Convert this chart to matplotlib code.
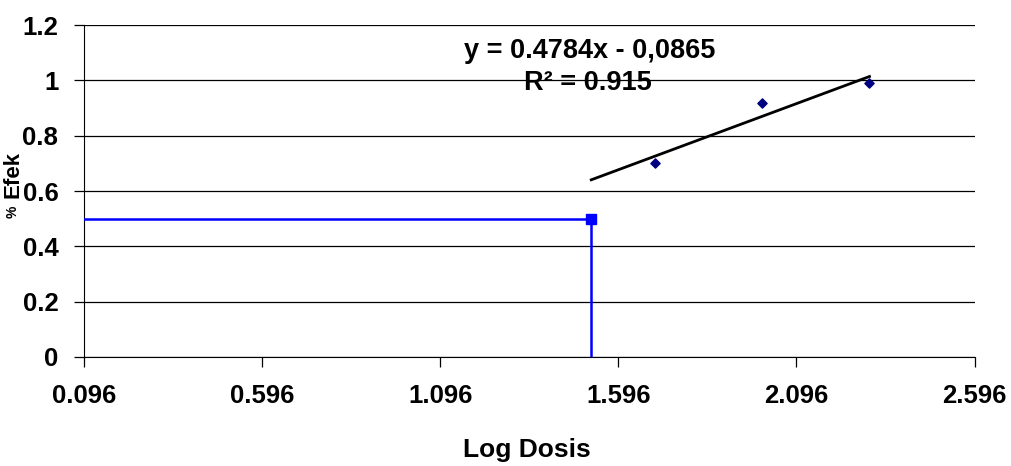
import matplotlib
matplotlib.use("Agg")
import matplotlib.pyplot as plt
import numpy as np

log_dose = [1.699, 2.0, 2.301]
effect = [0.70, 0.92, 0.99]
slope, intercept = 0.4784, -0.0865
trend_x = [1.52, 2.301]
ed50_x = 1.52
ed50_y = 0.5
xticks = [0.096, 0.596, 1.096, 1.596, 2.096, 2.596]
yticks = [0, 0.2, 0.4, 0.6, 0.8, 1, 1.2]
ytick_labels = ["0", "0.2", "0.4", "0.6", "0.8", "1", "1.2"]

plt.rcParams['font.family'] = ['Liberation Sans', 'DejaVu Sans']
fig = plt.figure(figsize=(10.12, 4.66), dpi=100)
ax = fig.add_axes([0.083, 0.234, 0.880, 0.712])

for y in yticks:
    ax.axhline(y, color='black', lw=0.9, zorder=1)

# ED50 guide lines
ax.plot([xticks[0], ed50_x], [ed50_y, ed50_y], color='#0000FF', lw=1.8, zorder=3)
ax.plot([ed50_x, ed50_x], [0, ed50_y], color='#0000FF', lw=1.8, zorder=3)
ax.plot([ed50_x], [ed50_y], marker='s', color='#0000FF', ms=7, zorder=4)

# trend line
tx = np.array(trend_x)
ax.plot(tx, slope * tx + intercept, color='black', lw=2, zorder=3)
ax.scatter(log_dose, effect, marker='D', s=22, color='#000080', zorder=4)

ax.text(1.515, 1.105, "y = 0.4784x - 0,0865", ha='center', va='center',
        fontsize=19.5, fontweight='bold')
ax.text(1.51, 0.99, "R² = 0.915", ha='center', va='center',
        fontsize=19.5, fontweight='bold')

ax.set_xlim(xticks[0], xticks[-1])
ax.set_ylim(0, 1.2)
ax.set_xticks(xticks)
ax.set_xticklabels([f"{v:.3f}" for v in xticks])
ax.set_yticks(yticks)
ax.set_yticklabels(ytick_labels)
for s in ['top', 'right']:
    ax.spines[s].set_visible(False)
ax.spines['left'].set_color('black')
ax.spines['bottom'].set_color('black')
ax.tick_params(axis='both', direction='out', length=7.5, width=0.9, labelsize=18.5)
ax.tick_params(axis='x', pad=12)
ax.tick_params(axis='y', pad=11)
for lab in ax.get_xticklabels() + ax.get_yticklabels():
    lab.set_fontweight('bold')

fig.text(0.521, 0.035, "Log Dosis", ha='center', va='center', fontsize=19, fontweight='bold')
fig.text(0.013, 0.625, "Efek", ha='center', va='center', rotation=90, fontsize=16, fontweight='bold')
fig.text(0.012, 0.545, "%", ha='center', va='center', rotation=90, fontsize=10, fontweight='bold')

fig.savefig("out.png", dpi=100)
